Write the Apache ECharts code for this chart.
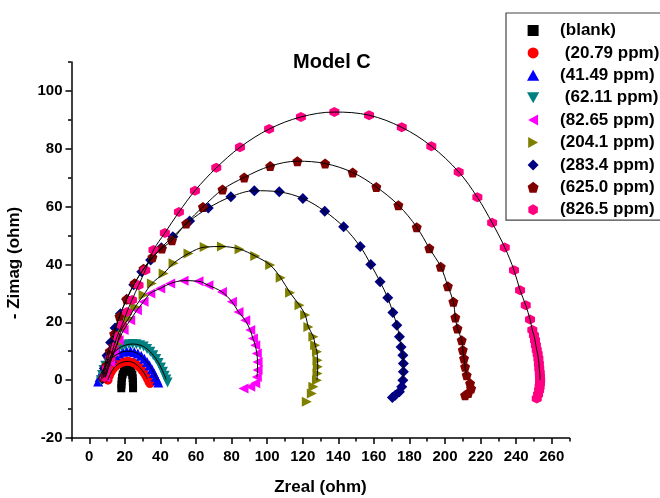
<!DOCTYPE html>
<html><head><meta charset="utf-8">
<script src="https://cdn.jsdelivr.net/npm/echarts@6/dist/echarts.min.js"></script>
<style>html,body{margin:0;padding:0;background:#fff}#c{width:660px;height:498px}</style>
</head><body><div id="c"></div>
<script>
// ---- data (Zreal, -Zimag) in ohm ----
const seriesNames = ['(blank)', ' (20.79 ppm)', '(41.49 ppm)', ' (62.11 ppm)', '(82.65 ppm)', '(204.1 ppm)', '(283.4 ppm)', '(625.0 ppm)', '(826.5 ppm)'];

const blank = [[18,-2.8],[18.1,-1.5],[18.2,-0.3],[18.4,0.9],[18.8,2],[19.4,2.9],[20.2,3.5],[21.1,3.8],[22.1,3.8],[23,3.4],[23.7,2.7],[24.2,1.8],[24.4,0.7],[24.5,-0.5],[24.6,-1.7],[24.6,-2.8]];
const ppm2079 = [[10.5,0],[11.3,1.5],[12.3,2.8],[13.5,3.9],[14.9,4.9],[16.5,5.6],[18.2,6.1],[20,6.4],[21.8,6.5],[23.6,6.3],[25.3,5.9],[26.9,5.2],[28.3,4.4],[29.6,3.5],[30.8,2.5],[31.8,1.5],[32.7,0.5],[33.5,-0.5],[34.1,-1.2]];
const ppm4149 = [[5,-0.5],[5.8,1],[6.8,2.5],[8,3.9],[9.4,5.3],[11,6.6],[12.8,7.7],[14.7,8.6],[16.7,9.3],[18.8,9.8],[21,10],[23.2,10],[25.3,9.7],[27.3,9.2],[29.2,8.4],[30.9,7.4],[32.5,6.3],[33.9,5.1],[35.2,3.8],[36.3,2.5],[37.3,1.2],[38.2,0],[38.8,-0.8]];
const ppm6211 = [[6.5,0],[7.2,1.8],[8,3.5],[9,5],[10.2,6.5],[11.5,7.8],[13,9],[14.6,10],[16.3,10.9],[18.2,11.6],[20.2,12.1],[22.3,12.4],[24.4,12.5],[26.5,12.4],[28.6,12.1],[30.6,11.6],[32.5,10.8],[34.3,9.8],[36,8.6],[37.6,7.3],[39,5.9],[40.3,4.4],[41.4,2.9],[42.4,1.5],[43.3,0.2],[44,-0.8]];
const ppm8265 = [[9,1],[11.8,6.2],[14,9.7],[16.5,13.8],[19.3,17.3],[23,20.7],[26.8,24.2],[30.5,27.1],[34.3,30],[39.9,31.7],[45.5,33.4],[53,34.4],[61.4,34.2],[67,32.8],[74.6,30.5],[80.2,27.1],[83.9,23.6],[87.7,20.7],[90.5,17.3],[92,14.4],[93.3,12.1],[94.2,9.2],[94.6,6.3],[94.6,3.5],[94.2,1.1],[93.3,-1.1],[90.5,-2.3],[86.7,-2.9]];
const ppm2041 = [[9,1],[10.7,4.1],[12.9,8.3],[15.6,12.5],[18.4,17.9],[22.1,21.3],[25.8,25.3],[30.5,29.4],[35.2,33.4],[41.8,36.9],[47.4,40.4],[55.8,43.8],[64.9,46.0],[74.6,46.2],[84.5,45.3],[93.3,42.9],[101.7,39.8],[107.6,35.4],[112.9,30.2],[118.2,25.9],[121.4,22.5],[123.2,18.4],[126.0,15.0],[127.0,12.1],[128.0,9.8],[128.3,6.9],[128.5,4.6],[128.3,2.3],[128.0,0],[126.0,-2.3],[125.1,-4.6],[122.3,-7.5]];
const ppm2834 = [[7.5,0.5],[8.5,4],[10,8.5],[12,13],[14.5,18],[17.5,23],[21,28],[25,33],[29.5,37.5],[34.5,41.5],[40.5,45.8],[47.0,49.6],[56.4,55.0],[66.9,59.5],[79.6,63.4],[92.8,65.5],[106.8,65.1],[120.1,62.8],[132.4,58.4],[143.0,53.0],[152.3,46.2],[158.3,40.0],[163.5,34.0],[167.8,28.5],[170.7,23.4],[172.9,19.0],[174.4,15.0],[175.3,11.5],[176.3,8.6],[176.6,5.8],[176.6,2.9],[176.3,0],[175.7,-2.3],[174.4,-4.0],[172.0,-5.2],[170.4,-6.0]];
const ppm6250 = [[8,1],[9.5,5],[11.5,10],[14,16],[17,22],[21,28],[25.5,33.5],[30.5,38.5],[35.5,42.5],[40.8,45.5],[46.5,48.4],[54.5,54.2],[63.9,59.9],[74.9,65.9],[87.1,70.1],[101.7,74.0],[117.0,75.7],[132.6,74.9],[148.1,71.8],[161.4,66.8],[173.8,60.5],[184.1,52.9],[191.2,45.6],[197.6,39.2],[201.6,32.5],[204.7,27.1],[205.8,21.7],[207.0,17.9],[209.4,13.8],[210.0,10.4],[210.7,7.5],[211.3,4.6],[212.2,1.7],[214.1,-1.1],[214.7,-2.9],[213.1,-4.4],[211.3,-5.2]];
const ppm8265b = [[8.6,1.1],[9.9,4.0],[11.8,7.5],[13.7,11.5],[15.6,15.0],[18.4,19.0],[21.2,23.6],[24.0,27.7],[27.7,32.8],[31.5,38.0],[36.1,45.0],[42.5,50.9],[50.4,58.1],[59.4,65.5],[71.4,73.4],[84.7,80.5],[101.1,86.8],[119.0,91.0],[137.8,92.7],[157.3,91.6],[175.7,87.4],[192.3,80.9],[207.7,72.0],[218.2,63.2],[226.5,54.4],[233.6,45.9],[238.8,38.0],[242.2,31.1],[245.4,25.9],[247.8,21.0],[249.1,17.3],[250.0,15.5],[250.6,13.8],[251.1,12.1],[251.6,10.4],[252.1,9.0],[252.5,7.5],[252.8,5.7],[253.0,4.0],[253.3,2.5],[253.4,1.1],[253.5,0],[253.4,-1.1],[253.2,-2.3],[252.9,-3.5],[252.3,-5.0],[251.6,-6.3]];

const seriesData = [blank, ppm2079, ppm4149, ppm6211, ppm8265, ppm2041, ppm2834, ppm6250, ppm8265b];

const xTickLabels = [0,20,40,60,80,100,120,140,160,180,200,220,240,260];
const xMinorTicks = [-10,10,30,50,70,90,110,130,150,170,190,210,230,250,270];
const yTickLabels = [-20,0,20,40,60,80,100];
const yMinorTicks = [-10,10,30,50,70,90,110];

// ---- styles ----
const FONT = "'Liberation Sans', Arial, sans-serif";
const styles = [
  {color:'#000000', symbol:'path://M0,0L10,0L10,10L0,10Z', size:8},
  {color:'#ff0000', symbol:'circle', size:9},
  {color:'#0000ff', symbol:'path://M5,0L10,9L0,9Z', size:10},
  {color:'#008080', symbol:'path://M0,0L10,0L5,9Z', size:10},
  {color:'#ff00ff', symbol:'path://M9,0L9,10L0,5Z', size:10},
  {color:'#808000', symbol:'path://M0,0L9,5L0,10Z', size:10},
  {color:'#000080', symbol:'path://M5,0L10,5L5,10L0,5Z', size:11},
  {color:'#800000', symbol:'path://M5,0L10,3.8L8.1,10L1.9,10L0,3.8Z', size:10},
  {color:'#ff0080', symbol:'path://M5,0L9.33,2.5L9.33,7.5L5,10L0.67,7.5L0.67,2.5Z', size:10}
];

const series = [];
seriesData.forEach((d, i) => {
  series.push({
    name: seriesNames[i], type: 'scatter', data: d,
    symbol: styles[i].symbol, symbolSize: styles[i].size,
    itemStyle: {color: styles[i].color, opacity: 1}, z: 2, silent: true
  });
});
seriesData.forEach((d, i) => {
  series.push({
    name: 'fit' + i, type: 'line', data: d.filter(p => p[1] >= 0),
    smooth: 0.35, symbol: 'none', lineStyle: {color: '#000', width: 1}, z: 5, silent: true
  });
});

const labelStyle = {fontFamily: FONT, fontWeight: 'bold', fontSize: 15, color: '#000'};
const gridRect = {left: 71.5, right: 90.5, top: 62, bottom: 60, outerBoundsMode: 'none', containLabel: false};

const option = {
  animation: false,
  backgroundColor: '#fff',
  title: {text: 'Model C', left: 293, top: 52, padding: 0,
    textStyle: {fontFamily: FONT, fontWeight: 'bold', fontSize: 20, color: '#000'}},
  legend: {
    data: seriesNames, orient: 'vertical', left: 506, top: 13,
    padding: [9, 30, 2, 21], itemGap: 5.4, itemWidth: 44, itemHeight: 11,
    symbolKeepAspect: true, selectedMode: false,
    borderColor: '#444', borderWidth: 1.2,
    textStyle: {fontFamily: FONT, fontWeight: 'bold', fontSize: 17, lineHeight: 17, color: '#000'}
  },
  grid: [Object.assign({}, gridRect), Object.assign({}, gridRect)],
  xAxis: [
    {type: 'value', gridIndex: 0, min: -10, max: 270, position: 'bottom',
     axisLine: {onZero: false, lineStyle: {color: '#000', width: 1.5}},
     axisTick: {customValues: xTickLabels, length: 6, lineStyle: {color: '#000', width: 1.5}},
     axisLabel: Object.assign({customValues: xTickLabels, margin: 11}, labelStyle),
     splitLine: {show: false},
     name: 'Zreal (ohm)', nameLocation: 'middle', nameGap: 41,
     nameTextStyle: {fontFamily: FONT, fontWeight: 'bold', fontSize: 17, color: '#000'}},
    {type: 'value', gridIndex: 1, min: -10, max: 270, position: 'bottom',
     axisLine: {show: false, onZero: false},
     axisTick: {customValues: xMinorTicks, length: 3.5, lineStyle: {color: '#000', width: 1.5}},
     axisLabel: {show: false}, splitLine: {show: false}}
  ],
  yAxis: [
    {type: 'value', gridIndex: 0, min: -20, max: 110, position: 'left',
     axisLine: {show: true, onZero: false, lineStyle: {color: '#000', width: 1.5}},
     axisTick: {show: true, customValues: yTickLabels, length: 6, lineStyle: {color: '#000', width: 1.5}},
     axisLabel: Object.assign({customValues: yTickLabels, margin: 9}, labelStyle),
     splitLine: {show: false},
     name: '- Zimag (ohm)', nameLocation: 'middle', nameGap: 49, nameRotate: 90,
     nameTextStyle: {fontFamily: FONT, fontWeight: 'bold', fontSize: 17, color: '#000', padding: [0, 26, 0, 0]}},
    {type: 'value', gridIndex: 1, min: -20, max: 110, position: 'left',
     axisLine: {show: false, onZero: false},
     axisTick: {show: true, customValues: yMinorTicks, length: 3.5, lineStyle: {color: '#000', width: 1.5}},
     axisLabel: {show: false}, splitLine: {show: false}}
  ],
  series: series
};

const chart = echarts.init(document.getElementById('c'), null, {renderer: 'canvas'});
chart.setOption(option);
</script>
</body></html>
